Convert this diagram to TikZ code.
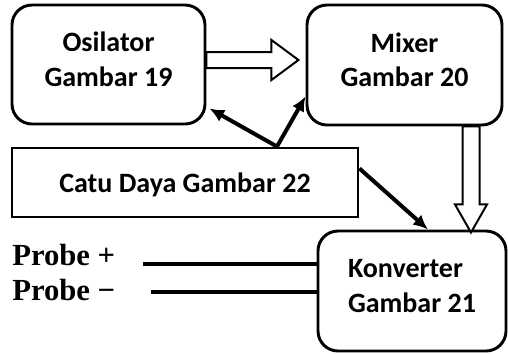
\documentclass[tikz,border=0pt]{standalone}
\usepackage{fontspec}
\setmainfont{Carlito}
\newfontfamily\probefont{Liberation Serif}
\usetikzlibrary{arrows.meta,calc}

\tikzset{
  blok/.style={draw, line width=2.2pt, rounded corners=15pt, align=center,
    font=\fontsize{21}{26}\selectfont\bfseries, inner sep=0pt, text depth=8pt},
  hollow/.style={draw, line width=1.5pt, fill=white, line join=miter},
  power/.style={line width=3pt, -{Latex[length=11pt,width=10pt]}},
  probeline/.style={line width=3.5pt},
  probetext/.style={font=\probefont\fontsize{23}{28}\selectfont\bfseries, inner sep=0pt},
}

\begin{document}
\begin{tikzpicture}[x=0.75pt,y=-0.75pt]
\useasboundingbox (0,0) rectangle (508,354);

% Blocks
\node[blok, minimum width=144.75pt, minimum height=89.25pt] (osc) at (108.5,64.5) {Osilator\\Gambar 19};
\node[blok, minimum width=146.25pt, minimum height=90pt] (mix) at (404.5,65) {Mixer\\Gambar 20};
\node[blok, rounded corners=0pt, text depth=0pt, minimum width=259.5pt, minimum height=51.75pt] (catu) at (185,182.5) {Catu Daya Gambar 22};
\node[blok, align=left, minimum width=141pt, minimum height=90pt] (konv) at (412,291) {Konverter\\Gambar 21};

% Signal paths (hollow arrows)
\draw[hollow] ($(osc.east)+(0,-12.5)$) -- ++(65,0) -- ++(0,-12) -- ++(27,20)
  -- ++(-27,20) -- ++(0,-12) -- ++(-65,0) -- cycle;
\draw[hollow] ($(mix.south)+(58,0)$) -- ++(0,78) -- ++(-7.5,0) -- ++(16,28)
  -- ++(16,-28) -- ++(-7.5,0) -- ++(0,-78) -- cycle;

% Supply lines
\coordinate (ct) at ($(catu.north)+(92,0)$);
\draw[power] (ct) -- ($(osc.south east)+(3,-17)$);
\draw[power] (ct) -- ($(mix.south west)+(0,-30)$);
\draw[power] ($(catu.east)+(0,-14)$) -- ($(konv.north)+(16,0)$);

% Probes
\node[probetext, anchor=base west] (pplus) at (12,265) {Probe +};
\node[probetext, anchor=base west] (pminus) at (12,300) {Probe −};
\coordinate (a1) at (143,264);
\coordinate (a2) at (151,292);
\draw[probeline] (a1) -- (a1 -| konv.west);
\draw[probeline] (a2) -- (a2 -| konv.west);
\end{tikzpicture}
\end{document}
